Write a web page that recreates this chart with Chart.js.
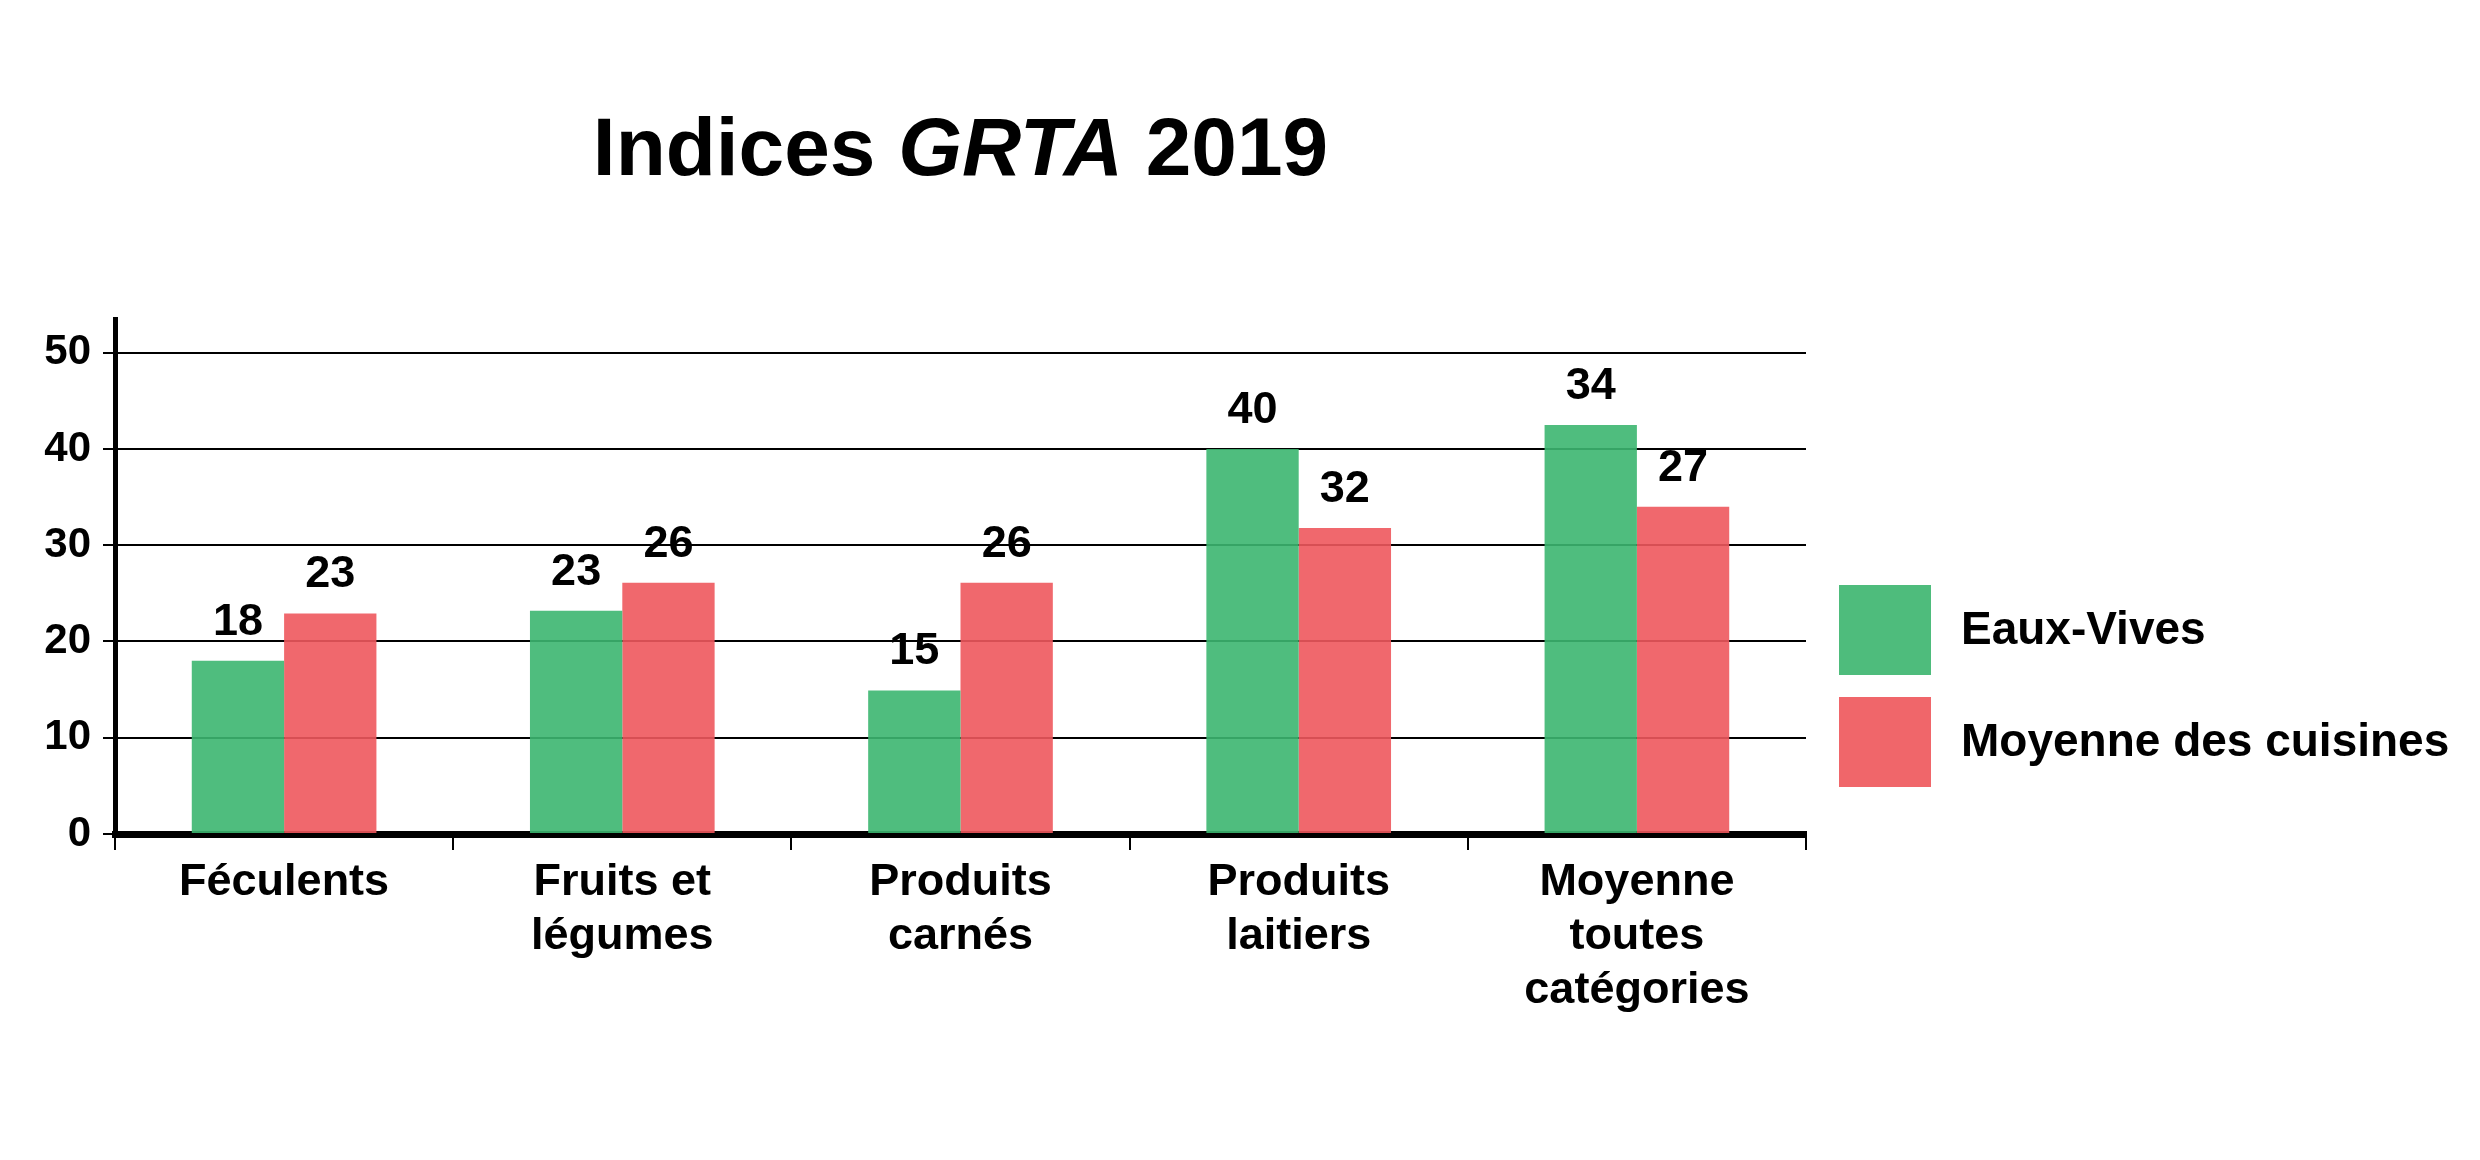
<!DOCTYPE html>
<html>
<head>
<meta charset="utf-8">
<script src="https://cdn.jsdelivr.net/npm/chart.js@4.4.0/dist/chart.umd.min.js"></script>
<style>
  html, body { margin: 0; padding: 0; background: #fff; }
  #wrap { width: 2480px; height: 1160px; }
</style>
</head>
<body>
<div id="wrap"><canvas id="chart" width="2480" height="1160"></canvas></div>
<script>
const categories = [
    ["Féculents"],
    ["Fruits et", "légumes"],
    ["Produits", "carnés"],
    ["Produits", "laitiers"],
    ["Moyenne", "toutes", "catégories"]
];
const seriesNames = ["Eaux-Vives", "Moyenne des cuisines"];
// bar heights as drawn
const eauxVives = [18, 23.2, 14.9, 40, 42.5];
const moyenneCuisines = [22.9, 26.1, 26.1, 31.8, 34];
// numbers printed above the bars
const eauxVivesLabels = ["18", "23", "15", "40", "34"];
const moyenneLabels = ["23", "26", "26", "32", "27"];
const yTicks = [0, 10, 20, 30, 40, 50];

const FONT = "'Liberation Sans', Arial, sans-serif";
const colors = ["rgba(60,182,112,0.9)", "rgba(238,88,93,0.9)"];
const legendColors = ["#4ebc7c", "#f0666a"];

// title with italic GRTA
const titlePlugin = {
    id: "mixedTitle",
    afterDraw(chart) {
        const ctx = chart.ctx;
        const parts = [
            { text: "Indices ", font: "bold 82px " + FONT },
            { text: "GRTA", font: "italic bold 82px " + FONT },
            { text: " 2019", font: "bold 82px " + FONT }
        ];
        ctx.save();
        let total = 0;
        parts.forEach(p => { ctx.font = p.font; p.w = ctx.measureText(p.text).width; total += p.w; });
        const area = chart.chartArea;
        let x = (area.left + area.right) / 2 - total / 2;
        ctx.fillStyle = "#000";
        ctx.textBaseline = "middle";
        ctx.textAlign = "left";
        parts.forEach(p => { ctx.font = p.font; ctx.fillText(p.text, x, 152); x += p.w; });
        ctx.restore();
    }
};

// numbers above bars
const valueLabels = {
    id: "valueLabels",
    afterDatasetsDraw(chart) {
        const ctx = chart.ctx;
        const sets = [eauxVivesLabels, moyenneLabels];
        ctx.save();
        ctx.font = "bold 45px " + FONT;
        ctx.fillStyle = "#000";
        ctx.textAlign = "center";
        ctx.textBaseline = "bottom";
        chart.data.datasets.forEach((ds, i) => {
            chart.getDatasetMeta(i).data.forEach((bar, j) => {
                ctx.fillText(sets[i][j], bar.x, bar.y - 16);
            });
        });
        ctx.restore();
    }
};

// legend boxes on the right
const sideLegend = {
    id: "sideLegend",
    afterDraw(chart) {
        const ctx = chart.ctx;
        const area = chart.chartArea;
        const x = area.right + 33;
        const tops = [area.top + 266, area.top + 378];
        ctx.save();
        ctx.font = "bold 46px " + FONT;
        ctx.textBaseline = "middle";
        ctx.textAlign = "left";
        seriesNames.forEach((name, i) => {
            ctx.fillStyle = legendColors[i];
            ctx.fillRect(x, tops[i], 92, 90);
            ctx.fillStyle = "#000";
            ctx.fillText(name, x + 122, tops[i] + 46);
        });
        ctx.restore();
    }
};

new Chart(document.getElementById("chart"), {
    type: "bar",
    data: {
        labels: categories,
        datasets: [
            { label: seriesNames[0], data: eauxVives, backgroundColor: colors[0] },
            { label: seriesNames[1], data: moyenneCuisines, backgroundColor: colors[1] }
        ]
    },
    options: {
        responsive: false,
        animation: false,
        devicePixelRatio: 1,
        layout: { padding: { left: 35, right: 674, top: 319, bottom: 126 } },
        datasets: {
            bar: { categoryPercentage: 0.546, barPercentage: 1.0 }
        },
        plugins: {
            legend: { display: false },
            title: { display: false },
            tooltip: { enabled: false }
        },
        scales: {
            x: {
                afterFit: s => { s.height = 200; },
                border: { display: true, color: "#000", width: 7 },
                grid: {
                    offset: true,
                    drawOnChartArea: false,
                    drawTicks: true,
                    tickLength: 16,
                    color: "#000",
                    lineWidth: 2
                },
                ticks: {
                    color: "#000",
                    padding: 6,
                    maxRotation: 0,
                    autoSkip: false,
                    font: { family: FONT, size: 45, weight: "bold", lineHeight: 1.2 }
                }
            },
            y: {
                min: 0,
                max: 53.5,
                afterFit: s => { s.width = 80; },
                afterBuildTicks: axis => {
                    axis.ticks = yTicks.map(v => ({ value: v }));
                },
                border: { display: true, color: "#000", width: 5 },
                grid: {
                    color: "#000",
                    lineWidth: 2,
                    drawTicks: true,
                    tickLength: 12,
                    tickColor: "#000"
                },
                ticks: {
                    color: "#000",
                    padding: 12,
                    font: { family: FONT, size: 42, weight: "bold" }
                }
            }
        }
    },
    plugins: [titlePlugin, valueLabels, sideLegend]
});
</script>
</body>
</html>
